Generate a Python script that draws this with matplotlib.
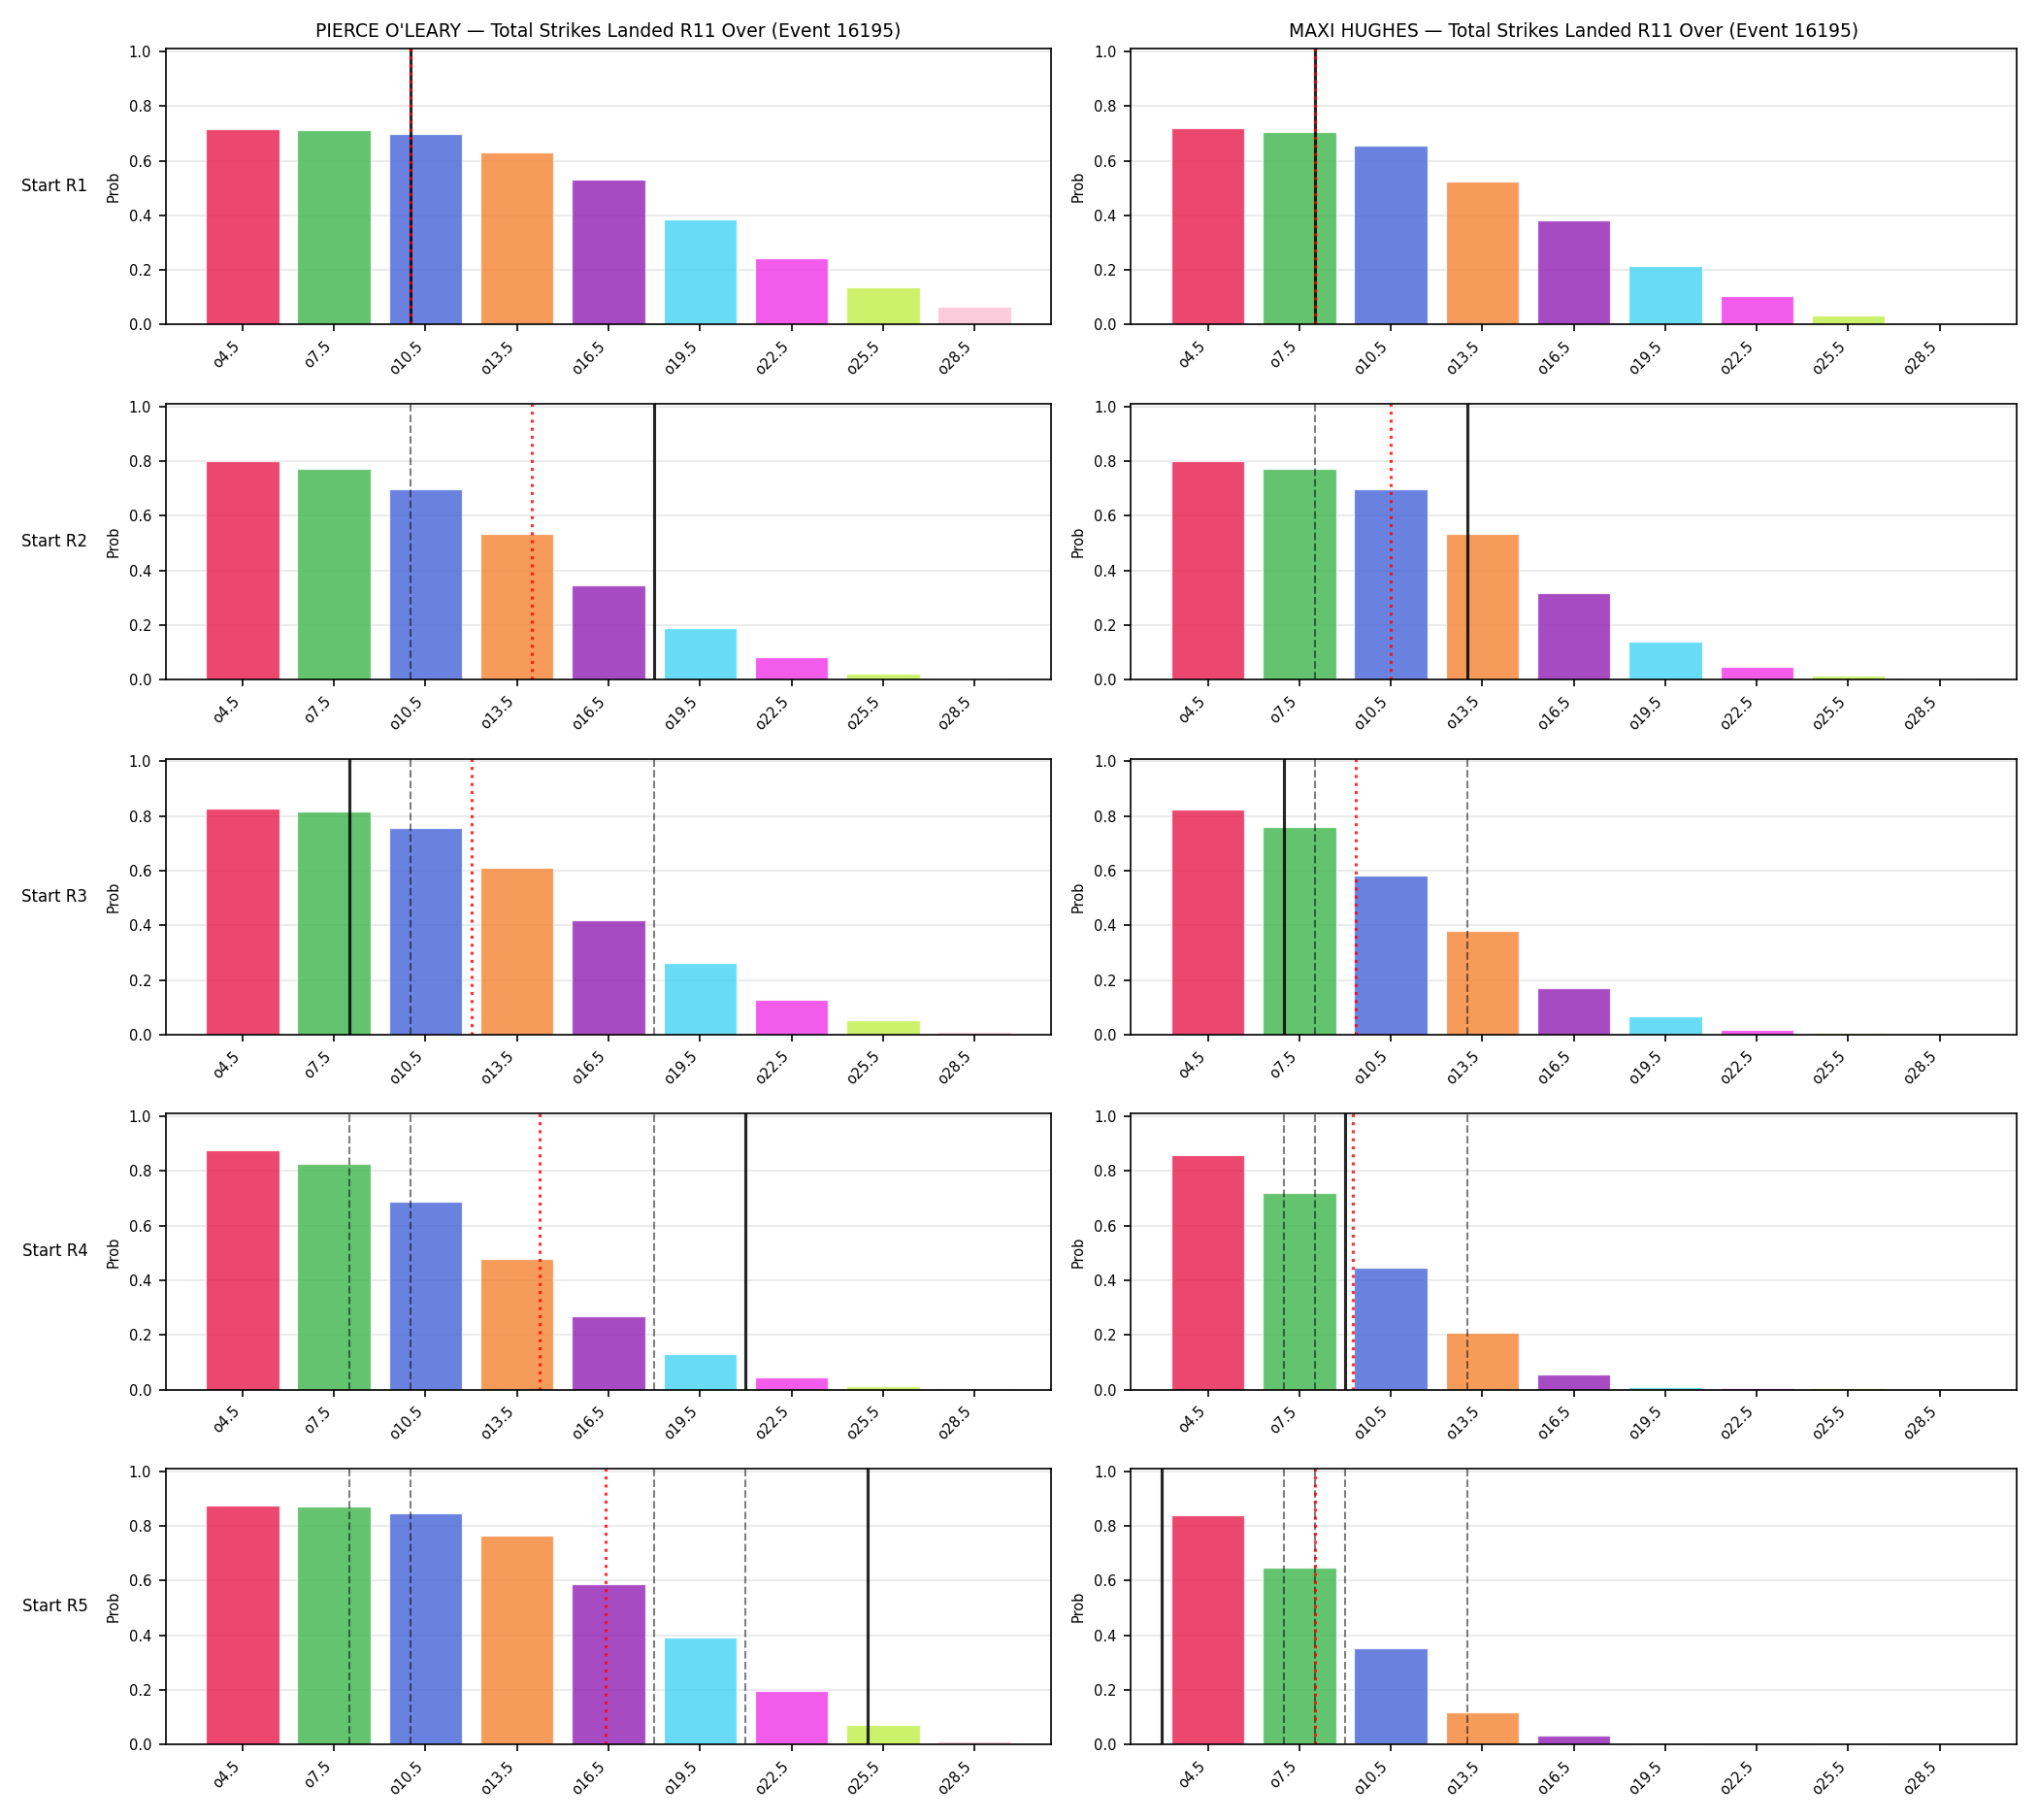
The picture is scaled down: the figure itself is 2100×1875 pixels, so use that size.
#!/usr/bin/env python3
"""
plot the over-probability ladder for total strikes landed (R11 market),
one row per starting round, one column per fighter.
  solid black  : strikes landed going into the round
  red dotted   : projected total
  grey dashed  : earlier rounds' totals
"""
import numpy as np

import matplotlib
matplotlib.use("Agg")
import matplotlib.pyplot as plt

EVENT = 16195
FIGHTERS = ["PIERCE O'LEARY", "MAXI HUGHES"]
ROUNDS = ["R1", "R2", "R3", "R4", "R5"]
LINES = [4.5, 7.5, 10.5, 13.5, 16.5, 19.5, 22.5, 25.5, 28.5]
COLORS = ["#e6194b", "#3cb44b", "#4363d8", "#f58231", "#911eb4",
          "#42d4f4", "#f032e6", "#bfef45", "#fabed4"]

OLEARY_PROBS = [
    [0.717, 0.713, 0.699, 0.631, 0.532, 0.386, 0.244, 0.137, 0.066],
    [0.798, 0.773, 0.695, 0.535, 0.345, 0.188, 0.083, 0.021, 0.005],
    [0.827, 0.817, 0.757, 0.611, 0.420, 0.261, 0.126, 0.052, 0.012],
    [0.876, 0.826, 0.688, 0.479, 0.269, 0.131, 0.046, 0.014, 0.005],
    [0.874, 0.871, 0.846, 0.765, 0.587, 0.392, 0.197, 0.073, 0.012],
]
HUGHES_PROBS = [
    [0.720, 0.706, 0.656, 0.525, 0.383, 0.215, 0.105, 0.034, 0.005],
    [0.798, 0.773, 0.695, 0.535, 0.317, 0.138, 0.047, 0.014, 0.005],
    [0.825, 0.760, 0.583, 0.381, 0.169, 0.066, 0.016, 0.006, 0.004],
    [0.858, 0.720, 0.447, 0.209, 0.057, 0.010, 0.006, 0.005, 0.004],
    [0.839, 0.648, 0.353, 0.119, 0.032, 0.005, 0.004, 0.004, 0.003],
]

# markers in strikes
OLEARY_TOTAL = [10, 18, 8, 21, 25]
OLEARY_PROJ = [10, 14, 12, 14.25, 16.4]
HUGHES_TOTAL = [8, 13, 7, 9, 3]
HUGHES_PROJ = [8, 10.5, 9.35, 9.26, 8.0]


def to_pos(v):
    # strikes -> bar index units
    return (v - LINES[0]) / (LINES[1] - LINES[0])


def draw_panel(ax, probs, total, proj, earlier):
    x = np.arange(len(LINES))
    ax.bar(x, probs, width=0.8, color=COLORS, alpha=0.8,
           edgecolor="white", linewidth=0.6)
    for v in earlier:
        ax.axvline(to_pos(v), color="k", ls="--", lw=1, alpha=0.5)
    ax.axvline(to_pos(total), color="k", lw=1.5, alpha=0.85)
    ax.axvline(to_pos(proj), color="red", ls=":", lw=1.5, alpha=0.8)
    ax.set_xticks(x)
    ax.set_xticklabels([f"o{l}" for l in LINES], rotation=45, ha="right")
    ax.set_ylim(0, 1.01)
    ax.set_ylabel("Prob", fontsize=7)
    ax.tick_params(labelsize=7)
    ax.grid(True, axis="y", alpha=0.3)
    ax.set_axisbelow(True)


def main():
    fig, axes = plt.subplots(len(ROUNDS), 2, figsize=(14, 12.5), dpi=150)
    fig.subplots_adjust(left=0.0813, right=0.9895, top=0.9733, bottom=0.0414,
                        wspace=0.09, hspace=0.286)
    data = [(OLEARY_PROBS, OLEARY_TOTAL, OLEARY_PROJ),
            (HUGHES_PROBS, HUGHES_TOTAL, HUGHES_PROJ)]
    for col, (probs, totals, projs) in enumerate(data):
        for row, rnd in enumerate(ROUNDS):
            ax = axes[row, col]
            draw_panel(ax, probs[row], totals[row], projs[row], totals[:row])
            if row == 0:
                ax.set_title(f"{FIGHTERS[col]} — Total Strikes Landed R11 Over "
                             f"(Event {EVENT})", fontsize=9)
            if col == 0:
                ax.text(-0.088, 0.5, f"Start {rnd}", transform=ax.transAxes,
                        ha="right", va="center", fontsize=8)
    fig.savefig("out.png", dpi=150)
    plt.close(fig)


if __name__ == "__main__":
    main()
